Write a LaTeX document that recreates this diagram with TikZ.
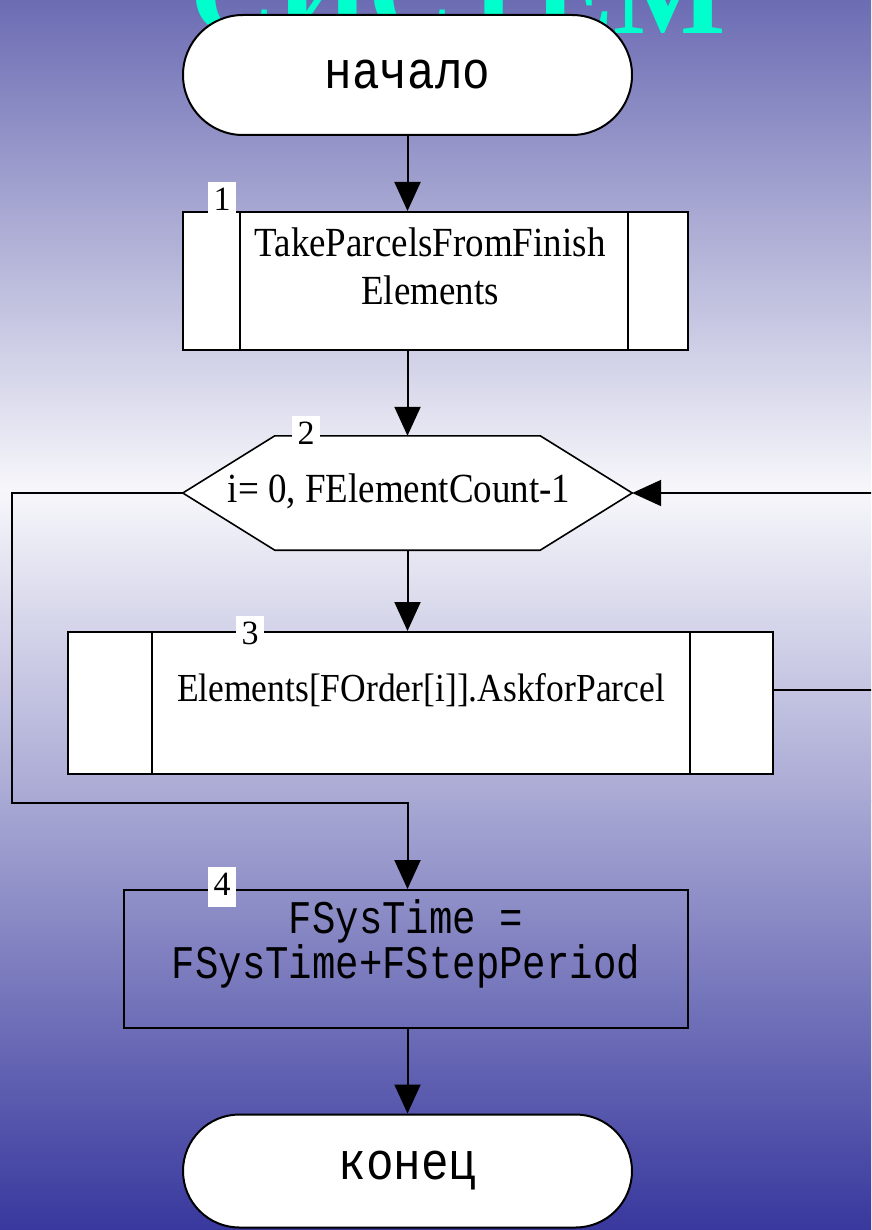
\documentclass[tikz,border=0pt]{standalone}
\usepackage{graphicx}
\usepackage{fontspec}
\newfontfamily\serifF{Liberation Serif}
\newfontfamily\monoF{Liberation Mono}
\newfontfamily\titleF{Liberation Serif}
\usetikzlibrary{arrows.meta,shapes.misc}
\definecolor{bgtop}{RGB}{108,108,180}
\definecolor{bgmid}{RGB}{247,247,251}
\definecolor{bglow}{RGB}{168,168,212}
\definecolor{bgbot}{RGB}{56,56,158}
\definecolor{titlecyan}{RGB}{0,255,204}
\begin{document}
\begin{tikzpicture}[x=1pt,y=-1pt,
  box/.style={draw=black, line width=2pt, fill=white, rectangle, inner sep=0pt},
  term/.style={draw=black, line width=2pt, fill=white, rounded rectangle, inner sep=0pt},
  conn/.style={line width=2pt, draw=black},
  arr/.style={conn, -{Triangle[length=29pt,width=26pt]}},
  sertext/.style={font=\serifF\fontsize{37}{48}\selectfont, align=center, inner sep=0pt},
  monotext/.style={font=\monoF\fontsize{46}{46}\selectfont, inner sep=0pt},
  numlab/.style={fill=white, inner sep=0pt, anchor=north west, minimum width=28pt,
    text height=28pt, text depth=12pt, font=\serifF\fontsize{34}{34}\selectfont},
]
\useasboundingbox (0,0) rectangle (871,1230);
\clip (0,0) rectangle (871,1230);
% background
\shade[top color=bgtop, bottom color=bgmid] (0,0) rectangle (871,491);
\shade[top color=bgmid, bottom color=bglow] (0,490) rectangle (871,801);
\shade[top color=bglow, bottom color=bgbot] (0,800) rectangle (871,1230);
% title (cut off at the top edge, as in the reference)
\node[anchor=base, inner sep=0pt, text=titlecyan, font=\titleF\bfseries\fontsize{119}{119}\selectfont] (title) at (458,34) {СИСТЕМ};
% start
\node[term, minimum width=449pt, minimum height=120pt, monotext] (start) at (407.5,75) {\scalebox{1}[1.15]{начало}};
% box 1
\node[box, minimum width=505pt, minimum height=138pt] (b1) at (435.5,281) {};
\draw[conn] ([xshift=58pt]b1.north west) -- ([xshift=58pt]b1.south west);
\draw[conn] ([xshift=-61pt]b1.north east) -- ([xshift=-61pt]b1.south east);
\node[sertext] (b1t) at (430,266) {\scalebox{1}[1.12]{TakeParcelsFromFinish}\\\scalebox{1}[1.12]{Elements}};
\node[numlab] (n1) at (208,182) {1};
% hexagon
\node[minimum width=449pt, minimum height=114pt, inner sep=0pt] (hex) at (407.5,493) {};
\draw[line width=1.6pt, fill=white] (hex.west) -- ([xshift=92pt]hex.north west) -- ([xshift=-92pt]hex.north east) -- (hex.east) -- ([xshift=-92pt]hex.south east) -- ([xshift=92pt]hex.south west) -- cycle;
\node[sertext] (hext) at (399,491) {\scalebox{1}[1.12]{i= 0, FElementCount-1}};
\node[numlab] (n2) at (292,416) {2};
% box 3
\node[box, minimum width=705pt, minimum height=142pt] (b3) at (420.5,703) {};
\draw[conn] ([xshift=85pt]b3.north west) -- ([xshift=85pt]b3.south west);
\draw[conn] ([xshift=-84pt]b3.north east) -- ([xshift=-84pt]b3.south east);
\node[sertext, font=\serifF\fontsize{35.5}{40}\selectfont] (b3t) at (421,690) {\scalebox{1}[1.12]{Elements[FOrder[i]].AskforParcel}};
\node[numlab] (n3) at (236,616) {3};
% box 4
\node[draw=black, line width=2pt, inner sep=0pt, minimum width=564pt, minimum height=138pt] (b4) at (406,959) {};
\node[inner sep=0pt, font=\monoF\fontsize{39}{33}\selectfont] (b4t) at (406,945) {\scalebox{1}[1.2]{\begin{tabular}{@{}c@{}}FSysTime =\\FSysTime+FStepPeriod\end{tabular}}};
\node[numlab] (n4) at (208,867) {4};
% end
\node[term, minimum width=449pt, minimum height=113pt, monotext] (end) at (407.5,1171) {\scalebox{1}[1.15]{конец}};
% connectors
\coordinate (L1) at (12,493);
\coordinate (L2) at (12,803);
\coordinate (R1) at (890,690);
\coordinate (R2) at (890,493);
\draw[arr] (start.south) -- (start.south |- b1.north);
\draw[arr] (start.south |- b1.south) -- (hex.north);
\draw[arr] (hex.south) -- (hex.south |- b3.north);
\draw[arr] (hex.west) -- (L1) -- (L2) -- (L2 -| start.south) -- (start.south |- b4.north);
\draw[arr] (start.south |- b4.south) -- (end.north);
\draw[arr] (b3.east |- R1) -- (R1) -- (R2) -- (hex.east);
\end{tikzpicture}
\end{document}
